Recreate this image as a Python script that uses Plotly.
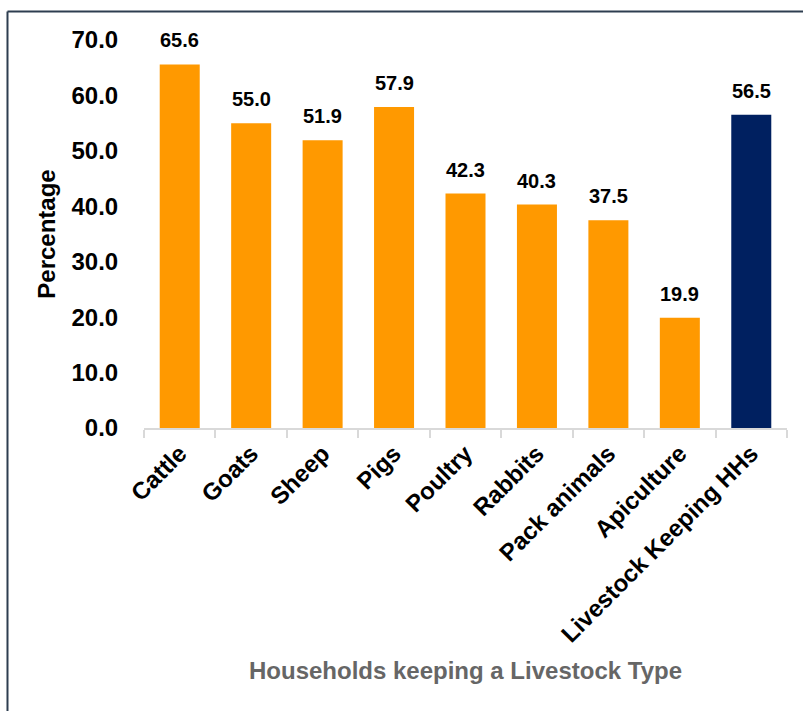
import plotly.graph_objects as go

categories = ["Cattle", "Goats", "Sheep", "Pigs", "Poultry", "Rabbits",
              "Pack animals", "Apiculture", "Livestock Keeping HHs"]
values = [65.6, 55.0, 51.9, 57.9, 42.3, 40.3, 37.5, 19.9, 56.5]

ORANGE = "#FF9900"
NAVY = "#002060"
colors = [ORANGE] * (len(categories) - 1) + [NAVY]

FONT = "Arial, Liberation Sans, sans-serif"

fig = go.Figure(go.Bar(
    x=categories,
    y=values,
    marker=dict(color=colors, line=dict(width=0)),
    cliponaxis=False,
))

# value labels above each bar
for cat, v in zip(categories, values):
    fig.add_annotation(
        x=cat, y=v, text=f"{v:.1f}", showarrow=False,
        xanchor="center", yanchor="bottom", yshift=11,
        font=dict(family=FONT, size=20, color="black", weight="bold"),
    )

# frame around the chart area (top and left edges visible)
frame = dict(color="#2E3E50", width=2)
fig.add_shape(type="line", xref="paper", yref="paper",
              x0=-0.2123, x1=1.1, y0=1.0735, y1=1.0735, line=frame)
fig.add_shape(type="line", xref="paper", yref="paper",
              x0=-0.2123, x1=-0.2123, y0=1.0735, y1=-0.8, line=frame)

fig.update_layout(
    width=803, height=711,
    margin=dict(l=144, r=16, t=40, b=283),
    paper_bgcolor="white", plot_bgcolor="white",
    bargap=0.44,
    showlegend=False,
    font=dict(family=FONT, color="black"),
)
fig.update_xaxes(
    tickangle=-45,
    tickfont=dict(family=FONT, size=24, color="black", weight="bold"),
    showline=True, linecolor="#D9D9D9", linewidth=2,
    ticks="outside", tickson="boundaries", ticklen=8, tickcolor="#D9D9D9", tickwidth=2,
    showgrid=False,
    title=dict(text="Households keeping a Livestock Type",
               font=dict(family=FONT, size=24, color="#666666", weight="bold"),
               standoff=16),
)
fig.update_yaxes(
    range=[0, 70], dtick=10, tickformat=".1f",
    tickfont=dict(family=FONT, size=24, color="black", weight="bold"),
    showgrid=False, zeroline=False, showline=False,
    ticks="outside", ticklen=20, tickcolor="rgba(0,0,0,0)",
    title=dict(text="Percentage",
               font=dict(family=FONT, size=24, color="black", weight="bold"),
               standoff=9),
)

fig.write_html("out.html")
